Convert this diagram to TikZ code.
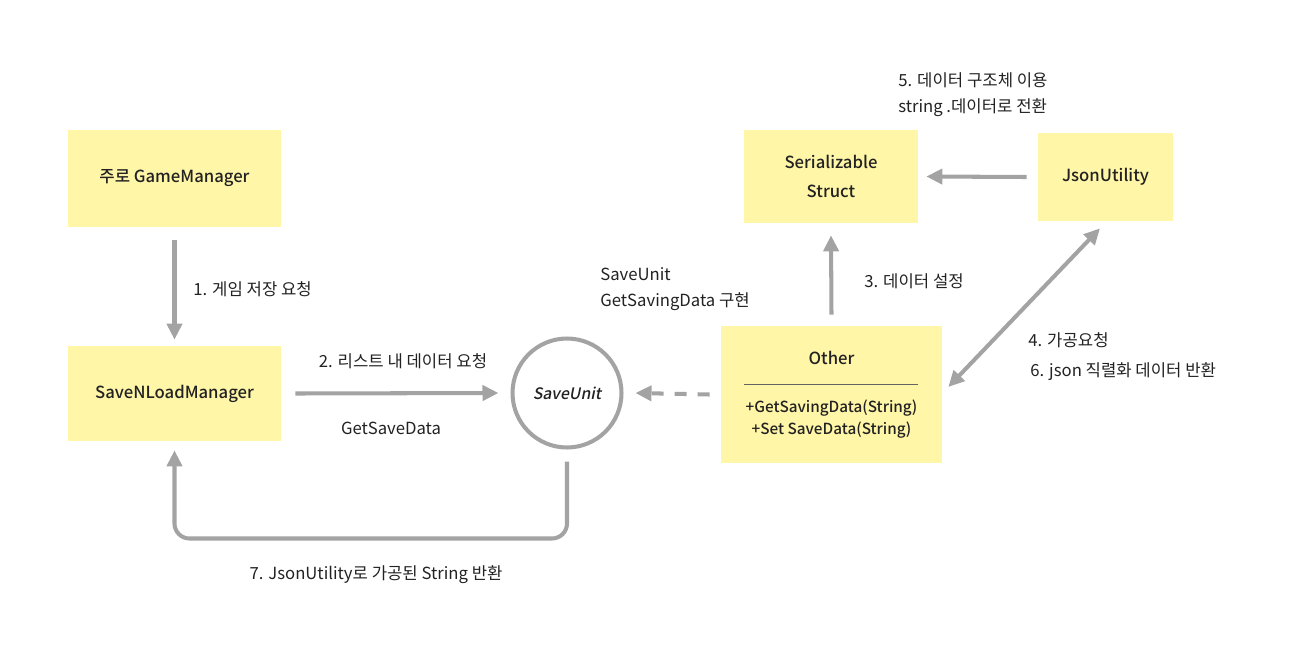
\documentclass[tikz,border=0pt]{standalone}
\usepackage{fontspec}
\setmainfont{Noto Sans CJK KR}[BoldFont={Noto Sans CJK KR Medium},ItalicFeatures={FakeSlant=0.2},BoldItalicFont={Noto Sans CJK KR Medium},BoldItalicFeatures={FakeSlant=0.2}]
\usepackage{xcolor}
\usetikzlibrary{arrows.meta,positioning,calc}
\definecolor{note}{HTML}{FFF6A8}
\definecolor{conn}{HTML}{A3A3A3}
\definecolor{ink}{HTML}{222222}
\tikzset{
  vnote/.style={draw=none,fill=note,align=center,inner sep=4pt,font=\bfseries\fontsize{9.5}{17}\selectfont,text=ink},
  vunit/.style={circle,draw=conn,line width=2.3pt,minimum size=2.18cm,font=\bfseries\itshape\fontsize{9}{11}\selectfont,text=ink},
  vlabel/.style={font=\fontsize{9.5}{12}\selectfont,text=ink,inner sep=0pt},
  varr/.style={-{Triangle[length=3.2mm,width=3mm]},line width=2.3pt,draw=conn},
  vdash/.style={varr,dash pattern=on 2.4mm off 2.2mm},
  vboth/.style={{Triangle[length=3.2mm,width=3mm]}-{Triangle[length=3.2mm,width=3mm]},line width=2.3pt,draw=conn}
}
\begin{document}
\begin{tikzpicture}[x=0.02cm,y=-0.02cm]
  \useasboundingbox (0,0) rectangle (1303,663);
  \node[vnote,minimum width=4.26cm,minimum height=1.94cm] (gm) at (174.5,178.5) {주로 GameManager};
  \node[vnote,minimum width=4.26cm,minimum height=1.9cm] (snl) at (174.5,393.5) {SaveNLoadManager};
  \node[vunit] (su) at (567,393) {SaveUnit};
  \node[vnote,minimum width=3.48cm,minimum height=1.86cm] (ss) at (831,176.5) {Serializable\\Struct};
  \node[vnote,minimum width=2.7cm,minimum height=1.76cm] (js) at (1105.5,177) {JsonUtility};
  \node[vnote,minimum width=4.42cm,minimum height=2.74cm] (ot) at (831.5,394.5) {};
  \node[vnote,fill=none,inner sep=0pt] (ott) at (831.5,358) {Other};
  \node[vnote,fill=none,inner sep=0pt,font=\bfseries\fontsize{8.7}{13}\selectfont] (otm) at (831.5,419) {+GetSavingData(String)\\+Set SaveData(String)};
  \draw[ink!70,line width=0.5pt] (744,384) -- (918,384);
  % labels
  \node[vlabel,anchor=west] (l1) at (193,289) {1. 게임 저장 요청};
  \node[vlabel] (l2) at (403,361) {2. 리스트 내 데이터 요청};
  \node[vlabel] (l2b) at (391,428) {GetSaveData};
  \node[vlabel,anchor=west] (lsu) at (600,274) {SaveUnit};
  \node[vlabel,anchor=west] (lsu2) at (600,302) {GetSavingData 구현};
  \node[vlabel,anchor=west] (l3) at (864,281) {3. 데이터 설정};
  \node[vlabel,anchor=west] (l5) at (898,80) {5. 데이터 구조체 이용};
  \node[vlabel,anchor=west] (l5b) at (898,108) {string .데이터로 전환};
  \node[vlabel,anchor=west] (l4) at (1028,340) {4. 가공요청};
  \node[vlabel,anchor=west] (l6) at (1030,372) {6. json 직렬화 데이터 반환};
  \node[vlabel] (l7) at (376,575) {7. JsonUtility로 가공된 String 반환};
  % connectors
  \draw[varr] ([yshift=-0.26cm]gm.south) -- ([yshift=0.12cm]snl.north);
  \draw[varr] ([xshift=0.28cm]snl.east) -- ([xshift=-0.24cm]su.west);
  \draw[vdash] ([xshift=-0.22cm]ot.west) -- ([xshift=0.24cm]su.east);
  \draw[varr] ([yshift=0.22cm]ot.north) -- ([yshift=-0.24cm]ss.south);
  \draw[varr] ([xshift=-0.22cm]js.west) -- ([xshift=0.16cm]ss.east);
  \draw[vboth] ([shift={(-0.11cm,-0.14cm)}]js.south) -- ([shift={(0.12cm,0.15cm)}]ot.east);
  \draw[varr,rounded corners=0.3cm] ([yshift=-0.24cm]su.south) -- ++(0,77) -| ([yshift=-0.18cm]snl.south);
\end{tikzpicture}
\end{document}
